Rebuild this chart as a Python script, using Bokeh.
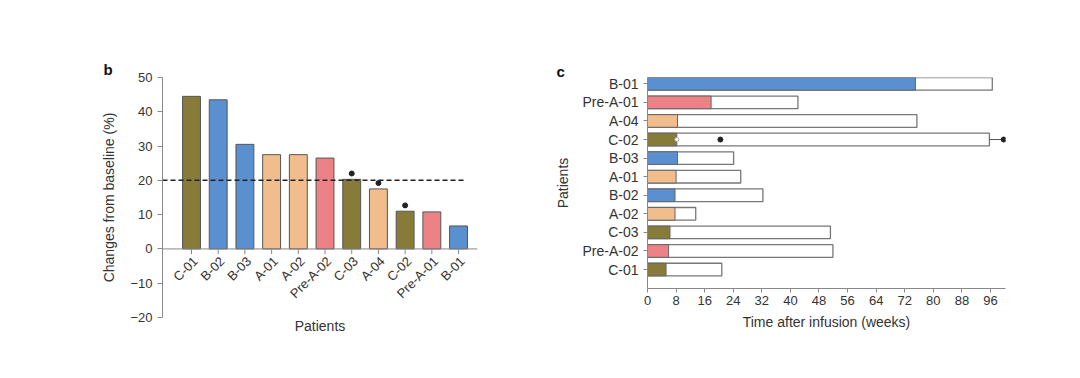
import math
from bokeh.plotting import figure
from bokeh.layouts import row
from bokeh.models import Range1d, FixedTicker, ColumnDataSource
from bokeh.core.properties import value
from bokeh.embed import file_html
from bokeh.resources import INLINE

# ---- data: panel b ----
patients_b = ["C-01", "B-02", "B-03", "A-01", "A-02", "Pre-A-02", "C-03", "A-04", "C-02", "Pre-A-01", "B-01"]
change_pct = [44.5, 43.5, 30.5, 27.5, 27.5, 26.5, 20.3, 17.5, 11.0, 10.8, 6.7]
starred_b = ["C-03", "A-04", "C-02"]
threshold = 20
y_ticks_b = [-20, -10, 0, 10, 20, 30, 40, 50]

# ---- data: panel c ----
patients_c = ["B-01", "Pre-A-01", "A-04", "C-02", "B-03", "A-01", "B-02", "A-02", "C-03", "Pre-A-02", "C-01"]
response_weeks = [75.0, 17.8, 8.4, 8.2, 8.4, 8.0, 7.7, 7.7, 6.3, 5.9, 5.2]
followup_weeks = [96.5, 42.1, 75.4, 95.7, 24.1, 26.1, 32.3, 13.5, 51.2, 51.9, 20.8]
c02_open_dot = 8.2
c02_event = 20.4
c02_arrow_end = 99.0
c02_star = 99.7
week_ticks = [0, 8, 16, 24, 32, 40, 48, 56, 64, 72, 80, 88, 96]

colors = {"C": "#877b3a", "B": "#5b90d0", "A": "#f2bd8c", "Pre-A": "#ec8285"}

def group_color(name):
    return colors[name.rsplit("-", 1)[0]]

FONT = "Liberation Sans"
TXT = "#333333"
AX = "#888888"

def style_axis(ax, tick_size):
    ax.axis_line_color = AX
    ax.major_tick_line_color = AX
    ax.minor_tick_line_color = None
    ax.major_tick_in = 0
    ax.major_label_text_font = FONT
    ax.major_label_text_font_size = tick_size
    ax.major_label_text_color = TXT
    ax.axis_label_text_font = FONT
    ax.axis_label_text_font_size = "14px"
    ax.axis_label_text_font_style = "normal"
    ax.axis_label_text_color = TXT

def style_title(p, text, offset, standoff):
    p.title.text = text
    p.title.align = "left"
    p.title.offset = offset
    p.title.standoff = standoff
    p.title.text_font = FONT
    p.title.text_font_size = "15px"
    p.title.text_font_style = "bold"
    p.title.text_color = "#111111"

# ================= panel b =================
xb = list(range(len(patients_b)))
p1 = figure(output_backend="svg", toolbar_location=None,
            frame_width=315, frame_height=240,
            min_border_left=162, min_border_right=51,
            min_border_top=77, min_border_bottom=50,
            x_range=Range1d(-1.086, 10.71), y_range=Range1d(-20, 50))
src_b = ColumnDataSource(dict(x=xb, top=change_pct, name=patients_b,
                              color=[group_color(n) for n in patients_b]))
p1.vbar(x="x", top="top", bottom=0, width=0.67, fill_color="color", line_color="#555555",
        line_width=1, source=src_b)
# zero axis line with category ticks and rotated labels
p1.segment(x0=[-1.086], y0=[0], x1=[10.71], y1=[0], line_color=AX, line_width=1)
p1.segment(x0=xb, y0=[0] * len(xb), x1=xb, y1=[-1.5] * len(xb), line_color=AX, line_width=1)
p1.text(x="x", y=0, text="name", source=src_b, angle=math.pi / 4,
        text_align="right", text_baseline="middle", x_offset=4, y_offset=10,
        text_font=value(FONT), text_font_size="13px", text_color=TXT)
# threshold
p1.segment(x0=[-1.086], y0=[threshold], x1=[10.19], y1=[threshold], line_color="#222222",
           line_dash="5 3", line_width=1.5)
sx = [patients_b.index(n) for n in starred_b]
sy = [change_pct[i] + 1.7 for i in sx]
p1.scatter(x=sx, y=sy, size=5, fill_color="#222222", line_color="#222222")

p1.xaxis.ticker = FixedTicker(ticks=[])
p1.xaxis.axis_label = "Patients"
p1.yaxis.ticker = FixedTicker(ticks=y_ticks_b)
p1.yaxis.major_label_overrides = {-20: "\u221220", -10: "\u221210"}
p1.yaxis.axis_label = "Changes from baseline (%)"
style_axis(p1.yaxis[0], "13px")
style_axis(p1.xaxis[0], "13px")
p1.xaxis.axis_line_color = None
p1.xaxis.major_tick_line_color = None
p1.xaxis.axis_label_standoff = 0
p1.yaxis.major_tick_out = 5
p1.yaxis.axis_label_standoff = 10
p1.xgrid.visible = False
p1.ygrid.visible = False
p1.outline_line_color = None
style_title(p1, "b", -59, 0)

# ================= panel c =================
yc = [len(patients_c) - 1 - i for i in range(len(patients_c))]
p2 = figure(output_backend="svg", toolbar_location=None,
            frame_width=358, frame_height=211,
            min_border_left=119, min_border_right=67,
            min_border_top=77, min_border_bottom=50,
            x_range=Range1d(0, 100.2), y_range=Range1d(-1.02, 10.34))
src_c = ColumnDataSource(dict(y=yc, resp=response_weeks, fu=followup_weeks,
                              color=[group_color(n) for n in patients_c]))
p2.hbar(y="y", left=0, right="fu", height=0.68, fill_color="white", line_color="#777777",
        line_width=1.3, source=src_c)
p2.hbar(y="y", left=0, right="resp", height=0.68, fill_color="color", line_color="#666666",
        line_width=1.0, source=src_c)
yc02 = yc[patients_c.index("C-02")]
fu02 = followup_weeks[patients_c.index("C-02")]
p2.segment(x0=[fu02], y0=[yc02], x1=[c02_arrow_end], y1=[yc02], line_color="#555555", line_width=1)
p2.scatter(x=[c02_open_dot], y=[yc02], size=4, fill_color="white", line_color="#aaaaaa")
p2.scatter(x=[c02_event, c02_star], y=[yc02, yc02], size=5, fill_color="#222222", line_color="#222222")

p2.yaxis.ticker = FixedTicker(ticks=yc)
p2.yaxis.major_label_overrides = {y: n for y, n in zip(yc, patients_c)}
p2.yaxis.axis_label = "Patients"
p2.xaxis.ticker = FixedTicker(ticks=week_ticks)
p2.xaxis.axis_label = "Time after infusion (weeks)"
style_axis(p2.xaxis[0], "13px")
style_axis(p2.yaxis[0], "14px")
p2.xaxis.major_tick_out = 4
p2.yaxis.major_tick_out = 4
p2.xaxis.major_label_standoff = 3
p2.xaxis.axis_label_standoff = 6
p2.yaxis.axis_label_standoff = 8
p2.xgrid.visible = False
p2.ygrid.visible = False
p2.outline_line_color = None
style_title(p2, "c", -91, -4)

layout = row(p1, p2)
open("out.html", "w").write(file_html(layout, INLINE))
